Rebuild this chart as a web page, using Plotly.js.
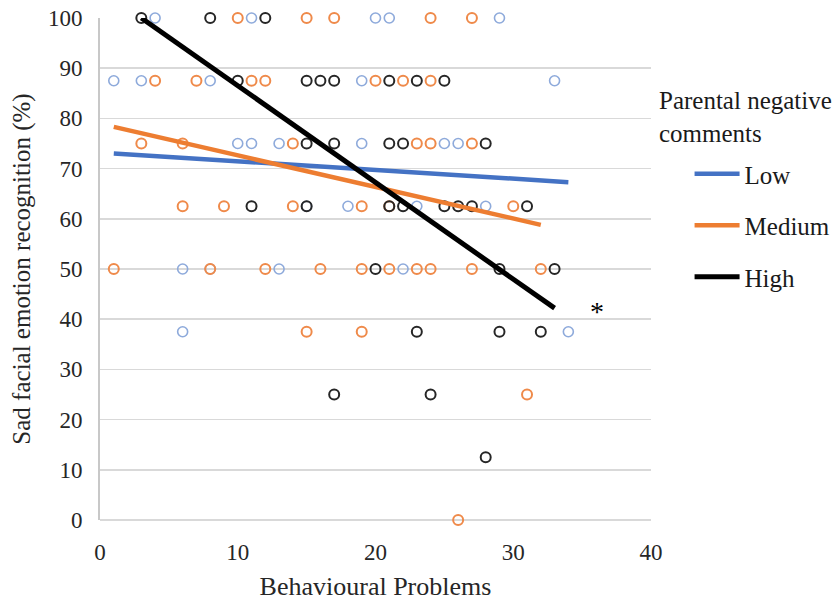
<!DOCTYPE html>
<html>
<head>
<meta charset="utf-8">
<script src="https://cdn.plot.ly/plotly-3.0.1.min.js"></script>
<style>html,body{margin:0;padding:0;background:#fff;}#chart{width:840px;height:603px;}</style>
</head>
<body>
<div id="chart"></div>
<script>
// Observed points (Behavioural Problems, Sad facial emotion recognition %)
var lowX  = [4, 11, 20, 21, 29, 1, 3, 8, 19, 33, 10, 11, 13, 19, 25, 26, 15, 18, 23, 28, 6, 8, 13, 22, 6, 34];
var lowY  = [100, 100, 100, 100, 100, 87.5, 87.5, 87.5, 87.5, 87.5, 75, 75, 75, 75, 75, 75, 62.5, 62.5, 62.5, 62.5, 50, 50, 50, 50, 37.5, 37.5];

var medX  = [10, 15, 17, 24, 27, 4, 7, 11, 12, 20, 22, 24, 3, 6, 14, 23, 24, 27, 6, 9, 14, 19, 21, 30, 1, 8, 12, 16, 19, 21, 23, 24, 27, 32, 15, 19, 31, 26];
var medY  = [100, 100, 100, 100, 100, 87.5, 87.5, 87.5, 87.5, 87.5, 87.5, 87.5, 75, 75, 75, 75, 75, 75, 62.5, 62.5, 62.5, 62.5, 62.5, 62.5, 50, 50, 50, 50, 50, 50, 50, 50, 50, 50, 37.5, 37.5, 25, 0];

var highX = [3, 8, 12, 10, 15, 16, 17, 21, 23, 25, 15, 17, 21, 22, 28, 11, 15, 21, 22, 25, 26, 27, 31, 20, 29, 33, 23, 29, 32, 17, 24, 28];
var highY = [100, 100, 100, 87.5, 87.5, 87.5, 87.5, 87.5, 87.5, 87.5, 75, 75, 75, 75, 75, 62.5, 62.5, 62.5, 62.5, 62.5, 62.5, 62.5, 62.5, 50, 50, 50, 37.5, 37.5, 37.5, 25, 25, 12.5];

// Fitted trend line endpoints
var lowLineX  = [1, 34];
var lowLineY  = [73, 67.3];
var medLineX  = [1, 32];
var medLineY  = [78.3, 58.8];
var highLineX = [3, 33];
var highLineY = [100, 42.2];

var groupNames = ['Low', 'Medium', 'High'];
var xTicks = [0, 10, 20, 30, 40];
var yTicks = [0, 10, 20, 30, 40, 50, 60, 70, 80, 90, 100];

var FONT = 'Liberation Serif, Times New Roman, serif';

function pts(x, y, color, lw) {
  return {x: x, y: y, type: 'scatter', mode: 'markers', showlegend: false, cliponaxis: false,
    hoverinfo: 'x+y',
    marker: {symbol: 'circle-open', size: 10, color: color, line: {color: color, width: lw}}};
}
function fit(x, y, color, name, w) {
  return {x: x, y: y, type: 'scatter', mode: 'lines', name: name, legendgroup: name,
    cliponaxis: false, line: {color: color, width: w}};
}

var data = [
  pts(lowX, lowY, '#8eaadb', 1.6),
  pts(medX, medY, '#ef8a4a', 2),
  pts(highX, highY, '#262626', 2),
  fit(lowLineX, lowLineY, '#4472c4', groupNames[0], 4.5),
  fit(medLineX, medLineY, '#ed7d31', groupNames[1], 4.5),
  fit(highLineX, highLineY, '#000000', groupNames[2], 5)
];

var layout = {
  width: 840, height: 603,
  margin: {l: 100, r: 189, t: 18, b: 83, autoexpand: false},
  paper_bgcolor: '#fff', plot_bgcolor: '#fff',
  font: {family: FONT, color: '#262626', size: 22},
  showlegend: true,
  xaxis: {
    range: [0, 40], tickvals: xTicks, ticktext: xTicks.map(String),
    showgrid: false, zeroline: false, showline: false,
    ticks: '', ticklabelstandoff: 16,
    tickfont: {family: FONT, size: 23, color: '#262626'},
    title: {text: 'Behavioural Problems', font: {family: FONT, size: 26, color: '#262626'}, standoff: 12}
  },
  yaxis: {
    range: [0, 100], tickvals: yTicks, ticktext: yTicks.map(String),
    showgrid: true, gridcolor: '#d9d9d9', gridwidth: 1.5,
    zeroline: true, zerolinecolor: '#d9d9d9', zerolinewidth: 1.5,
    showline: true, linecolor: '#c8c8c8', linewidth: 2,
    ticks: '', ticklabelstandoff: 11,
    tickfont: {family: FONT, size: 23, color: '#262626'},
    title: {text: 'Sad facial emotion recognition (%)', font: {family: FONT, size: 25, color: '#262626'}, standoff: 10}
  },
  legend: {
    x: 1.07, xanchor: 'left', y: 0.735, yanchor: 'top',
    font: {family: FONT, size: 25, color: '#1a1a1a'},
    itemwidth: 45,
    tracegroupgap: 16, bgcolor: 'rgba(0,0,0,0)'
  },
  annotations: [
    {xref: 'paper', yref: 'paper', x: 1.01, xanchor: 'left', y: 0.803, yanchor: 'middle',
     text: 'Parental negative<br>comments', showarrow: false, align: 'left',
     font: {family: FONT, size: 25, color: '#1a1a1a'}},
    {xref: 'x', yref: 'y', x: 36.1, y: 41.6, text: '*', showarrow: false,
     font: {family: FONT, size: 28, color: '#000'}}
  ]
};

Plotly.newPlot('chart', data, layout, {displayModeBar: false, staticPlot: true});
</script>
</body>
</html>
